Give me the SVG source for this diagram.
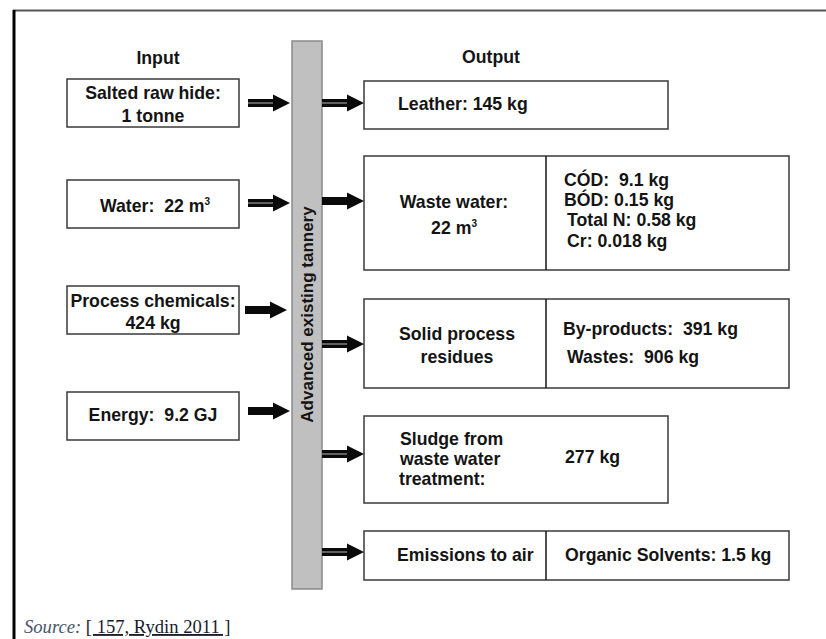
<svg xmlns="http://www.w3.org/2000/svg" xmlns:xlink="http://www.w3.org/1999/xlink" width="826" height="639" viewBox="0 0 826 639">
<style>
  .box { fill: #ffffff; stroke: #3a3a3a; stroke-width: 1.5; }
  .div { stroke: #222; stroke-width: 1.6; }
  .t { font-family: "Liberation Sans", Arial, sans-serif; font-weight: bold; font-size: 17.7px; fill: #141414; white-space: pre; }
  .c { text-anchor: middle; }
  .sup { font-size: 10px; }
  .src { font-family: "Liberation Serif", "Times New Roman", serif; font-size: 18.6px; }
</style>
<defs>
  <g id="arrowS">
    <path d="M-42,-4 H-17 V-8.5 L0,0 L-17,8.5 V4 H-42 Z" fill="#0a0a0a"/>
  </g>
  <g id="arrowD">
    <path d="M-42,-4 H-17 V-8.5 L0,0 L-17,8.5 V4 H-42 Z" fill="#0a0a0a"/>
    <line x1="-42" y1="0" x2="-17" y2="0" stroke="#9a9a9a" stroke-width="1.2"/>
  </g>
</defs>
<rect x="0" y="0" width="826" height="639" fill="#ffffff"/>

<!-- frame -->
<g id="frame">
  <line x1="13" y1="10.5" x2="826" y2="10.5" stroke="#555" stroke-width="2"/>
  <line x1="14" y1="10" x2="14" y2="639" stroke="#000" stroke-width="3"/>
</g>

<!-- headers -->
<text class="t c" x="158" y="64">Input</text>
<text class="t c" x="491" y="63">Output</text>

<!-- central process bar -->
<g id="tannery">
  <rect x="292" y="41" width="30" height="548" fill="#c0c0c0" stroke="#8a8a8a" stroke-width="1.5"/>
  <text class="t c" transform="translate(313,314.5) rotate(-90)" x="0" y="0" style="font-size:17px">Advanced existing tannery</text>
</g>

<!-- inputs -->
<g id="in-hide">
  <rect class="box" x="67" y="79" width="172" height="48"/>
  <text class="t c" x="153" y="99">Salted raw hide:</text>
  <text class="t c" x="153" y="122">1 tonne</text>
</g>
<g id="in-water">
  <rect class="box" x="67" y="180" width="172" height="48"/>
  <text class="t c" x="155" y="212">Water:  22 m<tspan class="sup" dy="-7">3</tspan></text>
</g>
<g id="in-chem">
  <rect class="box" x="67" y="286" width="172" height="48"/>
  <text class="t c" x="153" y="307">Process chemicals:</text>
  <text class="t c" x="153" y="329">424 kg</text>
</g>
<g id="in-energy">
  <rect class="box" x="67" y="392" width="172" height="48"/>
  <text class="t c" x="153" y="421">Energy:  9.2 GJ</text>
</g>

<!-- outputs -->
<g id="out-leather">
  <rect class="box" x="364" y="81" width="304" height="48"/>
  <text class="t" x="398" y="110">Leather: 145 kg</text>
</g>
<g id="out-wastewater">
  <rect class="box" x="364" y="156" width="425" height="114"/>
  <line class="div" x1="546" y1="156" x2="546" y2="270"/>
  <text class="t c" x="454" y="208">Waste water:</text>
  <text class="t c" x="454" y="234">22 m<tspan class="sup" dy="-7">3</tspan></text>
  <text class="t" x="564" y="186">CÓD:  9.1 kg</text>
  <text class="t" x="564" y="206">BÓD: 0.15 kg</text>
  <text class="t" x="567" y="226">Total N: 0.58 kg</text>
  <text class="t" x="567" y="247">Cr: 0.018 kg</text>
</g>
<g id="out-solid">
  <rect class="box" x="364" y="299" width="425" height="89"/>
  <line class="div" x1="546" y1="299" x2="546" y2="388"/>
  <text class="t c" x="457" y="340">Solid process</text>
  <text class="t c" x="457" y="363">residues</text>
  <text class="t" x="563" y="335">By-products:  391 kg</text>
  <text class="t" x="567" y="363">Wastes:  906 kg</text>
</g>
<g id="out-sludge">
  <rect class="box" x="364" y="416" width="304" height="87"/>
  <text class="t" x="400" y="445">Sludge from</text>
  <text class="t" x="400" y="465">waste water</text>
  <text class="t" x="399" y="485">treatment:</text>
  <text class="t" x="565" y="463">277 kg</text>
</g>
<g id="out-air">
  <rect class="box" x="364" y="531" width="425" height="49"/>
  <line class="div" x1="546" y1="531" x2="546" y2="580"/>
  <text class="t" x="397" y="561">Emissions to air</text>
  <text class="t" x="565" y="561">Organic Solvents: 1.5 kg</text>
</g>

<!-- connectors -->
<g id="connectors">
  <use xlink:href="#arrowD" href="#arrowD" x="290" y="103"/>
  <use xlink:href="#arrowD" href="#arrowD" x="290" y="203"/>
  <use xlink:href="#arrowS" href="#arrowS" x="287" y="310"/>
  <use xlink:href="#arrowS" href="#arrowS" x="290" y="411"/>
  <use xlink:href="#arrowD" href="#arrowD" x="364" y="103"/>
  <use xlink:href="#arrowS" href="#arrowS" x="364" y="201"/>
  <use xlink:href="#arrowD" href="#arrowD" x="364" y="344"/>
  <use xlink:href="#arrowD" href="#arrowD" x="364" y="454"/>
  <use xlink:href="#arrowD" href="#arrowD" x="364" y="552"/>
</g>

<!-- source -->
<text class="src" x="24" y="633"><tspan font-style="italic" fill="#4a5568">Source:</tspan> <tspan fill="#1a1a2e" text-decoration="underline">[ 157, Rydin 2011 ]</tspan></text>
</svg>
